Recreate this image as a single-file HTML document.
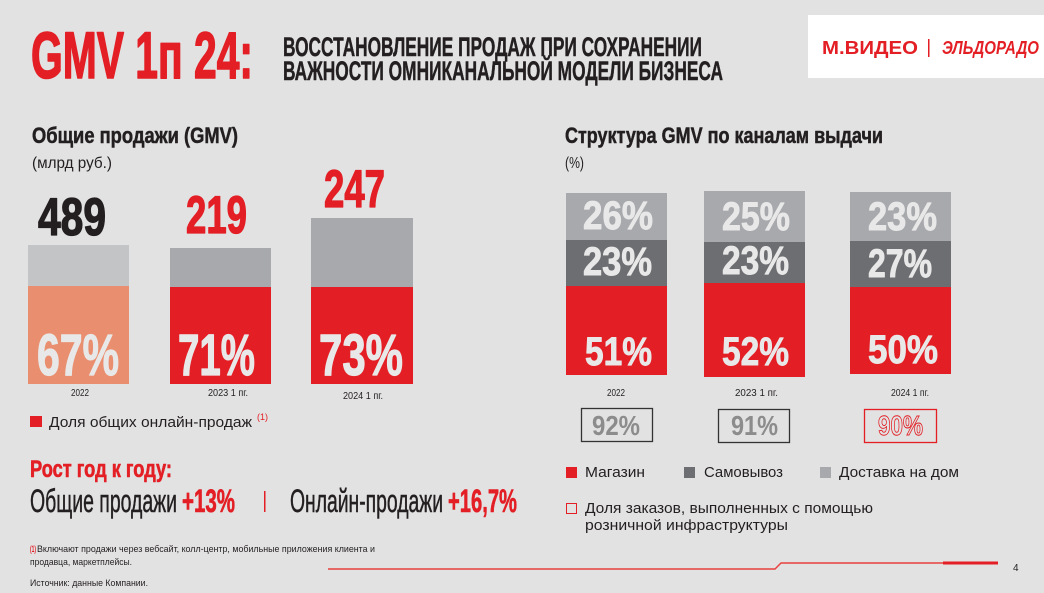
<!DOCTYPE html>
<html><head><meta charset="utf-8"><style>
html,body{margin:0;padding:0;background:#e2e2e2;}
svg{display:block;}
text{font-family:"Liberation Sans","DejaVu Sans",sans-serif;}
.th{paint-order:stroke;stroke-linejoin:round;}
</style></head><body>
<svg width="1044" height="593" viewBox="0 0 1044 593" xmlns="http://www.w3.org/2000/svg">
<rect x="0" y="0" width="1044" height="593" fill="#e2e2e2"/>

<!-- Title -->
<text class="th" x="31" y="78" font-size="66" font-weight="bold" fill="#e31e24" stroke="#e31e24" stroke-width="1.6" textLength="222" lengthAdjust="spacingAndGlyphs">GMV 1п 24:</text>
<text class="th" x="283" y="56" font-size="27" font-weight="bold" fill="#231f20" stroke="#231f20" stroke-width="0.5" textLength="419" lengthAdjust="spacingAndGlyphs">ВОССТАНОВЛЕНИЕ ПРОДАЖ ПРИ СОХРАНЕНИИ</text>
<text class="th" x="283" y="80" font-size="27" font-weight="bold" fill="#231f20" stroke="#231f20" stroke-width="0.5" textLength="440" lengthAdjust="spacingAndGlyphs">ВАЖНОСТИ ОМНИКАНАЛЬНОЙ МОДЕЛИ БИЗНЕСА</text>

<!-- Logo -->
<rect x="808" y="15" width="236" height="63" fill="#ffffff"/>
<text x="822" y="54" font-size="18" font-weight="bold" fill="#e31e24" textLength="96" lengthAdjust="spacingAndGlyphs">М.ВИДЕО</text>
<rect x="928" y="39" width="1.5" height="18" fill="#e31e24"/>
<text x="942" y="54" font-size="18" font-weight="bold" font-style="italic" fill="#e31e24" textLength="97" lengthAdjust="spacingAndGlyphs">ЭЛЬДОРАДО</text>

<!-- Section headings -->
<text class="th" x="32" y="143" font-size="22" font-weight="bold" fill="#231f20" stroke="#231f20" stroke-width="0.5" textLength="206" lengthAdjust="spacingAndGlyphs">Общие продажи (GMV)</text>
<text x="32" y="168" font-size="16" fill="#231f20" textLength="80" lengthAdjust="spacingAndGlyphs">(млрд руб.)</text>
<text class="th" x="565" y="143" font-size="22" font-weight="bold" fill="#231f20" stroke="#231f20" stroke-width="0.5" textLength="318" lengthAdjust="spacingAndGlyphs">Структура GMV по каналам выдачи</text>
<text x="565" y="168" font-size="16" fill="#231f20" textLength="19" lengthAdjust="spacingAndGlyphs">(%)</text>

<!-- Left chart -->
<text class="th" x="38" y="235" font-size="53" font-weight="bold" fill="#231f20" stroke="#231f20" stroke-width="1.3" textLength="68" lengthAdjust="spacingAndGlyphs">489</text>
<text class="th" x="186" y="233" font-size="53" font-weight="bold" fill="#e31e24" stroke="#e31e24" stroke-width="1.3" textLength="61" lengthAdjust="spacingAndGlyphs">219</text>
<text class="th" x="324" y="207" font-size="53" font-weight="bold" fill="#e31e24" stroke="#e31e24" stroke-width="1.3" textLength="61" lengthAdjust="spacingAndGlyphs">247</text>

<rect x="28" y="245" width="101" height="41" fill="#c3c4c6"/>
<rect x="28" y="286" width="101" height="98" fill="#e98f6f"/>
<rect x="170" y="248" width="101" height="39" fill="#a7a9ac"/>
<rect x="170" y="287" width="101" height="97" fill="#e31e24"/>
<rect x="311" y="218" width="102" height="69" fill="#a7a9ac"/>
<rect x="311" y="287" width="102" height="97" fill="#e31e24"/>

<g class="th" font-size="58" font-weight="bold" fill="#e8e8e8" stroke="#e8e8e8" stroke-width="1.2">
<text x="37" y="375" textLength="82" lengthAdjust="spacingAndGlyphs">67%</text>
<text x="178" y="375" textLength="77" lengthAdjust="spacingAndGlyphs">71%</text>
<text x="319" y="375" textLength="84" lengthAdjust="spacingAndGlyphs">73%</text>
</g>

<text x="71" y="396" font-size="10" fill="#231f20" textLength="18" lengthAdjust="spacingAndGlyphs">2022</text>
<text x="208" y="396" font-size="10" fill="#231f20" textLength="40" lengthAdjust="spacingAndGlyphs">2023 1 пг.</text>
<text x="343" y="399" font-size="10" fill="#231f20" textLength="40" lengthAdjust="spacingAndGlyphs">2024 1 пг.</text>

<rect x="30" y="416" width="12" height="11" fill="#e31e24"/>
<text x="49" y="427" font-size="15" fill="#231f20" textLength="203" lengthAdjust="spacingAndGlyphs">Доля общих онлайн-продаж</text>
<text x="257" y="420" font-size="9" fill="#e31e24" textLength="11" lengthAdjust="spacingAndGlyphs">(1)</text>

<!-- Right chart -->
<rect x="566" y="193" width="101" height="47" fill="#a7a9ac"/>
<rect x="566" y="240" width="101" height="46" fill="#6d6e71"/>
<rect x="566" y="286" width="101" height="89" fill="#e31e24"/>
<rect x="704" y="191" width="101" height="51" fill="#a7a9ac"/>
<rect x="704" y="242" width="101" height="41" fill="#6d6e71"/>
<rect x="704" y="283" width="101" height="94" fill="#e31e24"/>
<rect x="850" y="192" width="101" height="49" fill="#a7a9ac"/>
<rect x="850" y="241" width="101" height="46" fill="#6d6e71"/>
<rect x="850" y="287" width="101" height="87" fill="#e31e24"/>

<g class="th" font-size="40" font-weight="bold" fill="#e8e8e8" stroke="#e8e8e8" stroke-width="0.9">
<text x="583" y="229" textLength="70" lengthAdjust="spacingAndGlyphs">26%</text>
<text x="583" y="275" textLength="69" lengthAdjust="spacingAndGlyphs">23%</text>
<text x="585" y="365" textLength="67" lengthAdjust="spacingAndGlyphs">51%</text>
<text x="722" y="230" textLength="68" lengthAdjust="spacingAndGlyphs">25%</text>
<text x="722" y="274" textLength="67" lengthAdjust="spacingAndGlyphs">23%</text>
<text x="722" y="365" textLength="67" lengthAdjust="spacingAndGlyphs">52%</text>
<text x="868" y="230" textLength="69" lengthAdjust="spacingAndGlyphs">23%</text>
<text x="868" y="277" textLength="64" lengthAdjust="spacingAndGlyphs">27%</text>
<text x="868" y="363" textLength="70" lengthAdjust="spacingAndGlyphs">50%</text>
</g>

<text x="607" y="396" font-size="10" fill="#231f20" textLength="18" lengthAdjust="spacingAndGlyphs">2022</text>
<text x="735" y="396" font-size="10" fill="#231f20" textLength="43" lengthAdjust="spacingAndGlyphs">2023 1 пг.</text>
<text x="891" y="396" font-size="10" fill="#231f20" textLength="38" lengthAdjust="spacingAndGlyphs">2024 1 пг.</text>

<rect x="581.5" y="408.5" width="71" height="33" fill="none" stroke="#333333" stroke-width="1.3"/>
<rect x="718.5" y="409.5" width="71" height="33" fill="none" stroke="#333333" stroke-width="1.3"/>
<rect x="864.5" y="409.5" width="72" height="33" fill="none" stroke="#e31e24" stroke-width="1.3"/>
<text x="592" y="435" font-size="28" font-weight="bold" fill="#8c8c8c" textLength="48" lengthAdjust="spacingAndGlyphs">92%</text>
<text x="731" y="435" font-size="28" font-weight="bold" fill="#8c8c8c" textLength="47" lengthAdjust="spacingAndGlyphs">91%</text>
<text x="878" y="435" font-size="28" font-weight="bold" fill="none" stroke="#e31e24" stroke-width="0.9" textLength="45" lengthAdjust="spacingAndGlyphs">90%</text>

<!-- Right legend -->
<rect x="566" y="467" width="11" height="11" fill="#e31e24"/>
<text x="585" y="477" font-size="15" fill="#231f20" textLength="60" lengthAdjust="spacingAndGlyphs">Магазин</text>
<rect x="684" y="467" width="11" height="11" fill="#6d6e71"/>
<text x="704" y="477" font-size="15" fill="#231f20" textLength="79" lengthAdjust="spacingAndGlyphs">Самовывоз</text>
<rect x="820" y="467" width="11" height="11" fill="#a7a9ac"/>
<text x="839" y="477" font-size="15" fill="#231f20" textLength="120" lengthAdjust="spacingAndGlyphs">Доставка на дом</text>

<rect x="566.5" y="503.5" width="10" height="10" fill="none" stroke="#e31e24" stroke-width="1"/>
<text x="585" y="513" font-size="15" fill="#231f20" textLength="288" lengthAdjust="spacingAndGlyphs">Доля заказов, выполненных с помощью</text>
<text x="585" y="530" font-size="15" fill="#231f20" textLength="203" lengthAdjust="spacingAndGlyphs">розничной  инфраструктуры</text>

<!-- Growth -->
<text class="th" x="30" y="477" font-size="24" font-weight="bold" fill="#e31e24" stroke="#e31e24" stroke-width="0.6" textLength="142" lengthAdjust="spacingAndGlyphs">Рост год к году:</text>
<text class="th" x="30" y="512" font-size="32" fill="#231f20" stroke="#231f20" stroke-width="0.5" textLength="147" lengthAdjust="spacingAndGlyphs">Общие продажи</text>
<text class="th" x="182" y="512" font-size="32" font-weight="bold" fill="#e31e24" stroke="#e31e24" stroke-width="0.6" textLength="53" lengthAdjust="spacingAndGlyphs">+13%</text>
<rect x="264" y="491" width="1.5" height="21" fill="#e31e24"/>
<text class="th" x="290" y="512" font-size="32" fill="#231f20" stroke="#231f20" stroke-width="0.5" textLength="153" lengthAdjust="spacingAndGlyphs">Онлайн-продажи</text>
<text class="th" x="448" y="512" font-size="32" font-weight="bold" fill="#e31e24" stroke="#e31e24" stroke-width="0.6" textLength="69" lengthAdjust="spacingAndGlyphs">+16,7%</text>

<!-- Footnotes -->
<text x="30" y="552" font-size="9" font-weight="bold" fill="#e31e24" textLength="6" lengthAdjust="spacingAndGlyphs">(1)</text>
<text x="37" y="552" font-size="9.5" fill="#231f20" textLength="338" lengthAdjust="spacingAndGlyphs">Включают продажи через вебсайт, колл-центр, мобильные приложения клиента и</text>
<text x="30" y="565" font-size="9.5" fill="#231f20" textLength="102" lengthAdjust="spacingAndGlyphs">продавца, маркетплейсы.</text>
<text x="30" y="586" font-size="9.5" fill="#231f20" textLength="118" lengthAdjust="spacingAndGlyphs">Источник: данные Компании.</text>

<!-- Footer line -->
<path d="M328 569 L775 569 L781 563 L943 563" fill="none" stroke="#e8413f" stroke-width="1.4"/>
<rect x="943" y="561.5" width="55" height="3" fill="#e31e24"/>
<text x="1013" y="571" font-size="10" fill="#231f20">4</text>
</svg>
</body></html>
